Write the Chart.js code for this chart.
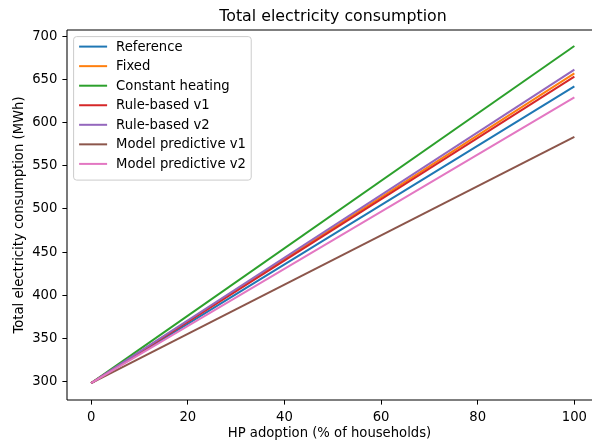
<!DOCTYPE html>
<html>
<head>
<meta charset="utf-8">
<script src="https://cdn.jsdelivr.net/npm/chart.js@4/dist/chart.umd.min.js"></script>
<style>
  html, body { margin: 0; padding: 0; background: #fff; overflow: hidden; }
</style>
</head>
<body>
<canvas id="chart1" width="592" height="447"></canvas>
<script>
// HP adoption levels (% of households)
const adoption = [0, 100];

const seriesNames = ['Reference', 'Fixed', 'Constant heating', 'Rule-based v1',
  'Rule-based v2', 'Model predictive v1', 'Model predictive v2'];

// total electricity consumption (MWh) at 0% and 100% adoption
const reference = [298, 642.2];
const fixed = [298, 657.3];
const constantHeating = [298, 689];
const ruleBasedV1 = [298, 653.4];
const ruleBasedV2 = [298, 661.5];
const modelPredV1 = [298, 583.5];
const modelPredV2 = [298, 629.5];

const xTicks = [0, 20, 40, 60, 80, 100];
const yTicks = [300, 350, 400, 450, 500, 550, 600, 650, 700];

const colors = ['#1f77b4', '#ff7f0e', '#2ca02c', '#d62728', '#9467bd', '#8c564b', '#e377c2'];
const allSeries = [reference, fixed, constantHeating, ruleBasedV1, ruleBasedV2, modelPredV1, modelPredV2];

const FONT = 'DejaVu Sans';

const datasets = allSeries.map((vals, i) => ({
  label: seriesNames[i],
  data: vals.map((v, j) => ({ x: adoption[j], y: v })),
  borderColor: colors[i],
  backgroundColor: colors[i],
  borderWidth: 2,
  pointRadius: 0,
  tension: 0,
  order: allSeries.length - i   // later series on top, like matplotlib
}));

// spines, title and legend box drawn by hand
const framePlugin = {
  id: 'frame',
  afterDraw(chart) {
    const { ctx, chartArea: a } = chart;
    ctx.save();
    ctx.strokeStyle = '#000';
    ctx.lineWidth = 1.05;
    // right spine falls outside the picture
    ctx.beginPath(); ctx.moveTo(a.left, a.top); ctx.lineTo(592, a.top); ctx.stroke();
    ctx.beginPath(); ctx.moveTo(a.left, a.top); ctx.lineTo(a.left, a.bottom); ctx.stroke();
    ctx.beginPath(); ctx.moveTo(a.left, a.bottom); ctx.lineTo(592, a.bottom); ctx.stroke();

    ctx.fillStyle = '#000';
    ctx.font = '15.8px "' + FONT + '"';
    ctx.textAlign = 'center';
    ctx.textBaseline = 'alphabetic';
    ctx.fillText('Total electricity consumption', 333, 20.5);

    // legend
    ctx.font = '13.2px "' + FONT + '"';
    let maxW = 0;
    chart.data.datasets.forEach(d => { maxW = Math.max(maxW, ctx.measureText(d.label).width); });
    const bx = a.left + 6.6, by = a.top + 6.6;
    const rowH = 19.55;
    const textX = bx + 42.5;
    const bw = textX - bx + maxW + 5.3;
    const bh = 12.6 + rowH * (chart.data.datasets.length - 1) + 13.6;
    ctx.beginPath();
    ctx.roundRect(bx, by, bw, bh, 3);
    ctx.fillStyle = 'rgba(255,255,255,0.8)';
    ctx.fill();
    ctx.strokeStyle = '#cccccc';
    ctx.lineWidth = 1;
    ctx.stroke();
    ctx.textAlign = 'left';
    ctx.textBaseline = 'middle';
    chart.data.datasets.forEach((d, i) => {
      const y = by + 10 + i * rowH;
      ctx.beginPath();
      ctx.moveTo(bx + 5.5, y);
      ctx.lineTo(bx + 33.5, y);
      ctx.strokeStyle = d.borderColor;
      ctx.lineWidth = 2;
      ctx.stroke();
      ctx.fillStyle = '#000';
      ctx.fillText(d.label, textX, y + 0.5);
    });
    ctx.restore();
  }
};

const ctx = document.getElementById('chart1').getContext('2d');
const myChart = new Chart(ctx, {
  type: 'line',
  data: { datasets: datasets },
  options: {
    responsive: false,
    animation: false,
    layout: { padding: { top: 30, right: 0, left: 0, bottom: 0 } },
    plugins: {
      legend: { display: false },
      title: { display: false },
      tooltip: { enabled: false }
    },
    scales: {
      x: {
        type: 'linear',
        min: -5,
        max: 103.65,   // axes run to 105 but the picture is cut at the right
        afterFit: s => { s.height = 47; },
        afterBuildTicks: s => { s.ticks = xTicks.map(v => ({ value: v })); },
        border: { display: false },
        grid: { display: true, drawOnChartArea: false, drawTicks: true, tickLength: 4.6, color: '#000' },
        ticks: { color: '#000', padding: 5, font: { family: FONT, size: 13.2 }, maxRotation: 0 },
        title: {
          display: true,
          text: 'HP adoption (% of households)',
          color: '#000',
          font: { family: FONT, size: 13.2 },
          padding: { top: 0, bottom: 5.6 }
        }
      },
      y: {
        min: 278.5,
        max: 707.5,
        afterFit: s => { s.width = 67; },
        afterBuildTicks: s => { s.ticks = yTicks.map(v => ({ value: v })); },
        border: { display: false },
        grid: { display: true, drawOnChartArea: false, drawTicks: true, tickLength: 4.6, color: '#000' },
        ticks: { color: '#000', padding: 5, font: { family: FONT, size: 13.2 } },
        title: {
          display: true,
          text: 'Total electricity consumption (MWh)',
          color: '#000',
          font: { family: FONT, size: 13.2 },
          padding: { top: 12, bottom: 0 }
        }
      }
    }
  },
  plugins: [framePlugin]
});
</script>
</body>
</html>
